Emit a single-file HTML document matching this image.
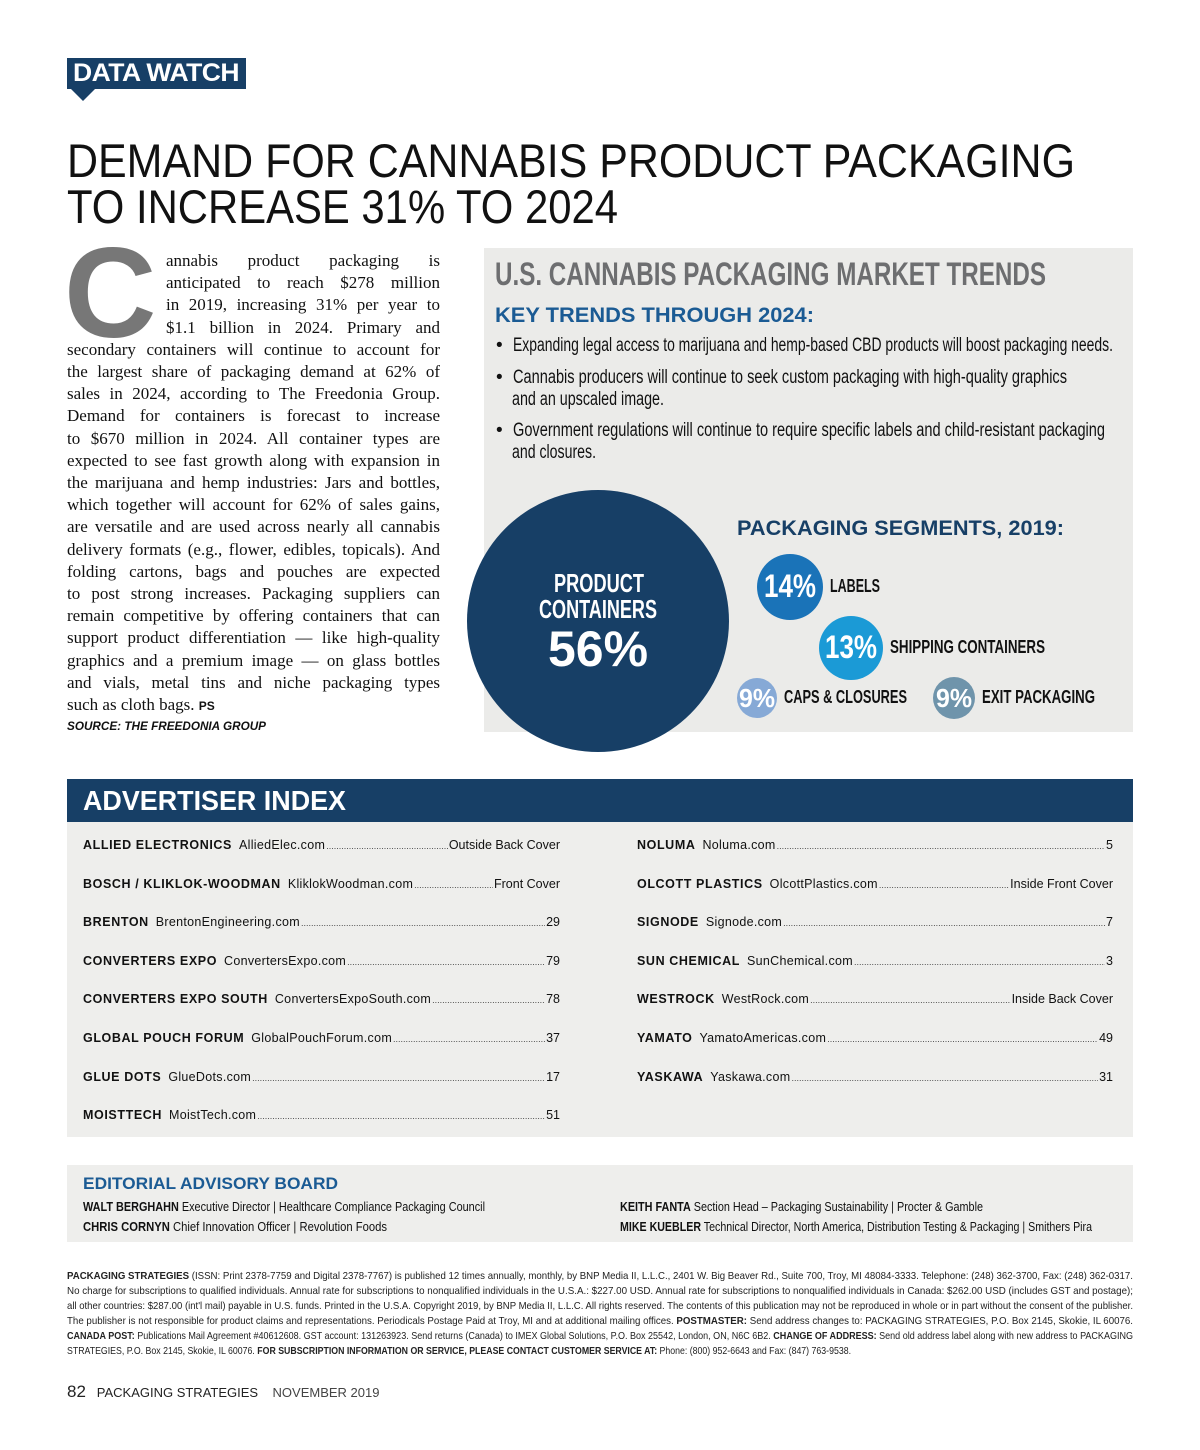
<!DOCTYPE html>
<html><head><meta charset="utf-8">
<style>
*{margin:0;padding:0;box-sizing:border-box}
body{width:1200px;height:1450px;background:#fff;position:relative;overflow:hidden;font-family:"Liberation Sans",sans-serif;color:#111}
.a{position:absolute;white-space:nowrap}
.fit{display:inline-block;transform-origin:0 0;white-space:nowrap}
.serif{font-family:"Liberation Serif",serif;font-size:17px}
.jl{position:absolute;text-align:justify;text-align-last:justify;white-space:normal;height:22px;overflow:hidden}
.row{position:absolute;font-size:12.5px;display:flex;align-items:baseline;white-space:nowrap}
.row b{letter-spacing:.6px;margin-right:7px}
.row .dots{flex:1;overflow:hidden;margin:0 1px;color:#444}
.row .dots:before{content:"........................................................................................................................................................................................................................................................................"; font-size:9px;letter-spacing:0}
</style></head><body>

<div class="a" style="left:67px;top:58px;width:179px;height:31px;background:#173f66"></div>
<div class="a" style="left:70px;top:88px;width:0;height:0;border-left:13px solid transparent;border-right:13px solid transparent;border-top:13px solid #173f66"></div>
<div class="a" style="left:73px;top:59px;color:#fff;font-weight:bold;font-size:25px;letter-spacing:-0.5px"><span class="fit" data-w="166">DATA WATCH</span></div>

<div class="a" style="left:67px;top:133px;font-size:47px;color:#111"><span class="fit" data-w="1008">DEMAND FOR CANNABIS PRODUCT PACKAGING</span></div>
<div class="a" style="left:67px;top:179px;font-size:47px;color:#111"><span class="fit" data-w="551">TO INCREASE 31% TO 2024</span></div>

<div class="a" style="left:64px;top:230px;font-size:128px;font-weight:bold;color:#777;line-height:1">C</div>

<div id="article" class="serif"></div>
<div class="a" style="left:67px;top:721px;font-size:11.5px;font-weight:bold;font-style:italic"><span class="fit" data-w="199">SOURCE: THE FREEDONIA GROUP</span></div>

<div class="a" style="left:484px;top:248px;width:649px;height:484px;background:#ebebe9"></div>
<div class="a" style="left:495px;top:256px;font-size:32px;font-weight:bold;color:#6d6e70"><span class="fit" data-w="551">U.S. CANNABIS PACKAGING MARKET TRENDS</span></div>
<div class="a" style="left:495px;top:304px;font-size:21px;font-weight:bold;color:#1b5b94"><span class="fit" data-w="319">KEY TRENDS THROUGH 2024:</span></div>
<div class="a" style="left:496px;top:335px;font-size:19px;color:#111">•&nbsp; <span class="fit" data-w="600">Expanding legal access to marijuana and hemp-based CBD products will boost packaging needs.</span></div>
<div class="a" style="left:496px;top:367px;font-size:19px;color:#111">•&nbsp; <span class="fit" data-w="554">Cannabis producers will continue to seek custom packaging with high-quality graphics</span></div>
<div class="a" style="left:512px;top:389px;font-size:19px;color:#111"><span class="fit" data-w="152">and an upscaled image.</span></div>
<div class="a" style="left:496px;top:420px;font-size:19px;color:#111">•&nbsp; <span class="fit" data-w="592">Government regulations will continue to require specific labels and child-resistant packaging</span></div>
<div class="a" style="left:512px;top:442px;font-size:19px;color:#111"><span class="fit" data-w="84">and closures.</span></div>

<div class="a" style="left:467px;top:490px;width:262px;height:262px;border-radius:50%;background:#173f66"></div>
<div class="a" style="left:554px;top:568px;color:#fff;font-size:26px;font-weight:bold"><span class="fit" data-w="90">PRODUCT</span></div>
<div class="a" style="left:539px;top:594px;color:#fff;font-size:26px;font-weight:bold"><span class="fit" data-w="118">CONTAINERS</span></div>
<div class="a" style="left:548px;top:620px;color:#fff;font-size:50px;font-weight:bold"><span class="fit" id="mainval" data-w="100">56%</span></div>

<div class="a" style="left:737px;top:517px;font-size:21px;font-weight:bold;color:#173f66"><span class="fit" data-w="327">PACKAGING SEGMENTS, 2019:</span></div>
<div id="segs"></div>

<div class="a" style="left:67px;top:779px;width:1066px;height:43px;background:#173f66"></div>
<div class="a" style="left:83px;top:785px;color:#fff;font-size:28px;font-weight:bold"><span class="fit" data-w="263">ADVERTISER INDEX</span></div>
<div class="a" style="left:67px;top:822px;width:1066px;height:315px;background:#eeeeec"></div>
<div id="ads"></div>

<div class="a" style="left:67px;top:1165px;width:1066px;height:77px;background:#eeeeec"></div>
<div class="a" style="left:83px;top:1174px;font-size:17px;font-weight:bold;color:#1b5b94"><span class="fit" data-w="255">EDITORIAL ADVISORY BOARD</span></div>
<div class="a" style="left:83px;top:1200px;font-size:12.5px"><span class="fit" data-w="402"><b>WALT BERGHAHN</b> Executive Director | Healthcare Compliance Packaging Council</span></div>
<div class="a" style="left:83px;top:1220px;font-size:12.5px"><span class="fit" data-w="304"><b>CHRIS CORNYN</b> Chief Innovation Officer | Revolution Foods</span></div>
<div class="a" style="left:620px;top:1200px;font-size:12.5px"><span class="fit" data-w="363"><b>KEITH FANTA</b> Section Head – Packaging Sustainability | Procter &amp; Gamble</span></div>
<div class="a" style="left:620px;top:1220px;font-size:12.5px"><span class="fit" data-w="472"><b>MIKE KUEBLER</b> Technical Director, North America, Distribution Testing &amp; Packaging | Smithers Pira</span></div>

<div id="fine"></div>

<div class="a" style="left:67px;top:1382px;font-size:13px;color:#222"><span style="font-size:17px">82</span>&nbsp;&nbsp; PACKAGING STRATEGIES &nbsp;&nbsp; <span style="color:#444">NOVEMBER 2019</span></div>

<script>
const segLabels=["LABELS","SHIPPING CONTAINERS","CAPS & CLOSURES","EXIT PACKAGING"];
const segValues=[14,13,9,9];
const mainValue=56;
(function(){
 const geo=[[790,587,33,"#1a73b8",50],[851,648,32,"#1b9ad6",155],[757,698,20,"#86a9d6",123],[954,698,21,"#6f94ab",113]];
 const host=document.getElementById('segs');
 segValues.forEach((v,i)=>{
  const [cx,cy,r,c,lw]=geo[i];
  const d=document.createElement('div');
  d.className='a';
  d.style.cssText=`left:${cx-r}px;top:${cy-r}px;width:${2*r}px;height:${2*r}px;border-radius:50%;background:${c}`;
  
  
  host.appendChild(d);
  const fs=r>25?32:26;
  const vw=r>25?52:36;
  const t=document.createElement('div');
  t.className='a';
  t.style.cssText=`left:${cx-vw/2}px;top:${cy-fs*0.58}px;color:#fff;font-weight:bold;font-size:${fs}px`;
  t.innerHTML=`<span class="fit" data-w="${vw}">${v}%</span>`;
  
  
  host.appendChild(t);
  const l=document.createElement('div');
  l.className='a';
  l.style.cssText=`left:${cx+r+7}px;top:${cy-11}px;font-weight:bold;font-size:18px;color:#111`;
  const sp=document.createElement('span');
  sp.className='fit';
  sp.dataset.w=lw;
  sp.textContent=segLabels[i];
  l.appendChild(sp);
  
  
  host.appendChild(l);
 });
 document.getElementById('mainval').textContent=mainValue+'%';

 const lines=["annabis product packaging is","anticipated to reach $278 million","in 2019, increasing 31% per year to","$1.1 billion in 2024. Primary and",
 "secondary containers will continue to account for","the largest share of packaging demand at 62% of","sales in 2024, according to The Freedonia Group.",
 "Demand for containers is forecast to increase","to $670 million in 2024. All container types are","expected to see fast growth along with expansion in",
 "the marijuana and hemp industries: Jars and bottles,","which together will account for 62% of sales gains,","are versatile and are used across nearly all cannabis",
 "delivery formats (e.g., flower, edibles, topicals). And","folding cartons, bags and pouches are expected","to post strong increases. Packaging suppliers can",
 "remain competitive by offering containers that can","support product differentiation — like high-quality","graphics and a premium image — on glass bottles",
 "and vials, metal tins and niche packaging types"];
 const art=document.getElementById('article');
 lines.forEach((s,i)=>{
  const d=document.createElement('div');
  d.className='jl';
  const x=i<4?166:67;
  d.style.cssText=`left:${x}px;width:${440-x}px;top:${251+i*22.2}px`;
  d.textContent=s;
  
  
  art.appendChild(d);
 });
 const last=document.createElement('div');
 last.className='a';
 last.style.cssText=`left:67px;top:${251+20*22.2}px`;
 last.innerHTML='such as cloth bags. <b style="font-family:Liberation Sans;font-size:12px">PS</b>';
 
 
 art.appendChild(last);

 const ads=[["ALLIED ELECTRONICS","AlliedElec.com","Outside Back Cover",0],["BOSCH / KLIKLOK-WOODMAN","KliklokWoodman.com","Front Cover",0],
 ["BRENTON","BrentonEngineering.com","29",0],["CONVERTERS EXPO","ConvertersExpo.com","79",0],["CONVERTERS EXPO SOUTH","ConvertersExpoSouth.com","78",0],
 ["GLOBAL POUCH FORUM","GlobalPouchForum.com","37",0],["GLUE DOTS","GlueDots.com","17",0],["MOISTTECH","MoistTech.com","51",0],
 ["NOLUMA","Noluma.com","5",1],["OLCOTT PLASTICS","OlcottPlastics.com","Inside Front Cover",1],["SIGNODE","Signode.com","7",1],
 ["SUN CHEMICAL","SunChemical.com","3",1],["WESTROCK","WestRock.com","Inside Back Cover",1],["YAMATO","YamatoAmericas.com","49",1],["YASKAWA","Yaskawa.com","31",1]];
 const ah=document.getElementById('ads');
 let li=0,ri=0;
 ads.forEach(a=>{
  const idx=a[3]?ri++:li++;
  const x=a[3]?637:83, w=a[3]?476:477;
  const r=document.createElement('div');
  r.className='row';
  r.style.cssText=`left:${x}px;width:${w}px;top:${838+idx*38.6}px`;
  r.innerHTML=`<b>${a[0]}</b><span style="letter-spacing:.3px">${a[1]}</span><span class="dots"></span><span>${a[2]}</span>`;
  
  
  ah.appendChild(r);
 });

 const fine=["<b>PACKAGING STRATEGIES</b> (ISSN: Print 2378-7759 and Digital 2378-7767) is published 12 times annually, monthly, by BNP Media II, L.L.C., 2401 W. Big Beaver Rd., Suite 700, Troy, MI 48084-3333. Telephone: (248) 362-3700, Fax: (248) 362-0317.",
 "No charge for subscriptions to qualified individuals. Annual rate for subscriptions to nonqualified individuals in the U.S.A.: $227.00 USD. Annual rate for subscriptions to nonqualified individuals in Canada: $262.00 USD (includes GST and postage);",
 "all other countries: $287.00 (int'l mail) payable in U.S. funds. Printed in the U.S.A. Copyright 2019, by BNP Media II, L.L.C. All rights reserved. The contents of this publication may not be reproduced in whole or in part without the consent of the publisher.",
 "The publisher is not responsible for product claims and representations. Periodicals Postage Paid at Troy, MI and at additional mailing offices. <b>POSTMASTER:</b> Send address changes to: PACKAGING STRATEGIES, P.O. Box 2145, Skokie, IL 60076.",
 "<b>CANADA POST:</b> Publications Mail Agreement #40612608. GST account: 131263923. Send returns (Canada) to IMEX Global Solutions, P.O. Box 25542, London, ON, N6C 6B2. <b>CHANGE OF ADDRESS:</b> Send old address label along with new address to PACKAGING",
 "STRATEGIES, P.O. Box 2145, Skokie, IL 60076. <b>FOR SUBSCRIPTION INFORMATION OR SERVICE, PLEASE CONTACT CUSTOMER SERVICE AT:</b> Phone: (800) 952-6643 and Fax: (847) 763-9538."];
 const fw=[1066,1066,1066,1066,1066,784];
 const fh=document.getElementById('fine');
 fine.forEach((s,i)=>{
  const d=document.createElement('div');
  d.className='a';
  d.style.cssText=`left:67px;top:${1270+i*15}px;font-size:10.5px;color:#222`;
  d.innerHTML=`<span class="fit" data-w="${fw[i]}">${s}</span>`;
  
  
  fh.appendChild(d);
 });

 document.querySelectorAll('.fit').forEach(e=>{
  const w=+e.dataset.w, cw=e.getBoundingClientRect().width;
  if(w&&cw) e.style.transform=`scaleX(${w/cw})`;
 });
})();
</script>
</body></html>
